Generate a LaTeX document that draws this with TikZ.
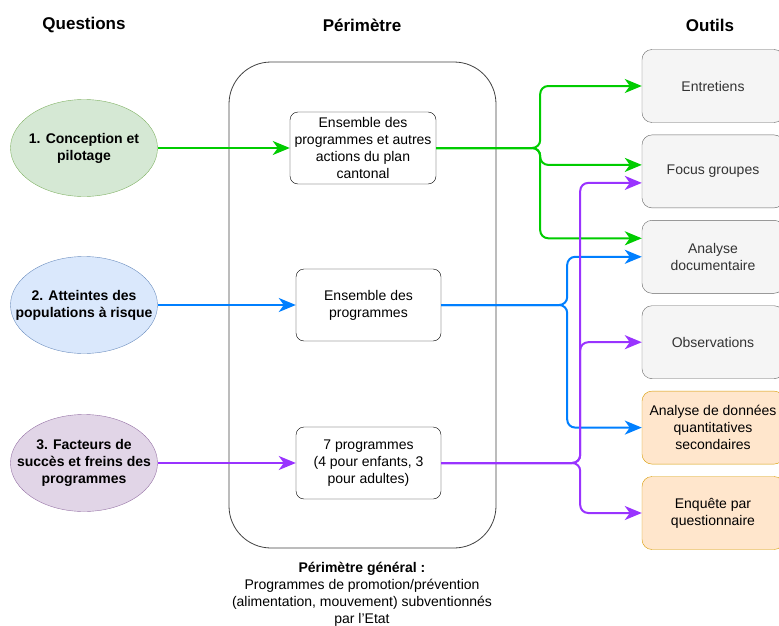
\documentclass[tikz,border=0pt]{standalone}
\usepackage{fontspec}
\setmainfont{Liberation Sans}
\usetikzlibrary{shapes.geometric, arrows.meta, positioning}
\definecolor{greenfill}{HTML}{D5E8D4}
\definecolor{greenline}{HTML}{82B366}
\definecolor{bluefill}{HTML}{DAE8FC}
\definecolor{blueline}{HTML}{6C8EBF}
\definecolor{purplefill}{HTML}{E1D5E7}
\definecolor{purpleline}{HTML}{9673A6}
\definecolor{toolfill}{HTML}{F5F5F5}
\definecolor{toolline}{HTML}{666666}
\definecolor{tooltext}{HTML}{333333}
\definecolor{datafill}{HTML}{FFE6CC}
\definecolor{dataline}{HTML}{D79B00}
\definecolor{linkgreen}{HTML}{00CC00}
\definecolor{linkblue}{HTML}{007FFF}
\definecolor{linkpurple}{HTML}{9933FF}
\newcommand{\diagfont}{\fontsize{14}{17}\selectfont}
\newcommand{\headfont}{\fontsize{17}{20}\selectfont\bfseries}
\tikzstyle{heading} = [font=\headfont]
\tikzstyle{question} = [ellipse, minimum width=147pt, minimum height=97pt, inner xsep=-40pt, inner ysep=-20pt, align=center, font=\diagfont\bfseries]
\tikzstyle{scopebox} = [rectangle, rounded corners=8pt, minimum width=145pt, minimum height=72pt, inner sep=0pt, align=center, draw=black, fill=white, font=\diagfont]
\tikzstyle{container} = [rectangle, rounded corners=42pt, minimum width=267pt, minimum height=486pt, draw=black!75, line width=0.8pt]
\tikzstyle{tool} = [rectangle, rounded corners=10pt, minimum width=142pt, minimum height=73pt, inner sep=0pt, align=center, draw=toolline, fill=toolfill, text=tooltext, font=\diagfont]
\tikzstyle{datatool} = [tool, draw=dataline, fill=datafill, text=black]
\tikzstyle{link} = [line width=2pt, rounded corners=8pt, -{Stealth[length=17pt, width=14pt, inset=5pt]}]

\begin{document}
\begin{tikzpicture}[x=1pt, y=-1pt, node distance=12pt]
 \useasboundingbox (0,0) rectangle (779,626);
 \clip (0,0) rectangle (779,626);

 \node (qhead) [heading] at (84,25) {Questions};
 \node (phead) [heading] at (362,25) {Périmètre};
 \node (ohead) [heading] at (710,25) {Outils};

 \node (perimetre) [container] at (362.5,305) {};

 \node (q1) [question, fill=greenfill, draw=greenline] at (84,148) {1. Conception et\\pilotage};
 \node (q2) [question, fill=bluefill, draw=blueline] at (84,305) {2. Atteintes des\\populations à risque};
 \node (q3) [question, fill=purplefill, draw=purpleline] at (84,463) {3. Facteurs de\\succès et freins des\\programmes};

 \node (plan) [scopebox, minimum width=146pt] at (363,148) {Ensemble des\\programmes et autres\\actions du plan\\cantonal};
 \node (progs) [scopebox] at (368.5,305) {Ensemble des\\programmes};
 \node (seven) [scopebox] at (368.5,463) {7 programmes\\(4 pour enfants, 3\\pour adultes)};

 \node (general) [align=center, font=\diagfont] at (362,594) {\textbf{Périmètre général :}\\Programmes de promotion/prévention\\(alimentation, mouvement) subventionnés\\par l'Etat};

 \node (entretiens) [tool] at (713,86) {Entretiens};
 \node (focus) [tool, below=of entretiens] {Focus groupes};
 \node (docs) [tool, below=of focus] {Analyse\\documentaire};
 \node (obs) [tool, below=of docs] {Observations};
 \node (donnees) [datatool, below=of obs] {Analyse de données\\quantitatives\\secondaires};
 \node (enquete) [datatool, below=of donnees] {Enquête par\\questionnaire};

 % question -> perimetre
 \draw[link, linkgreen] (q1) -- (plan);
 \draw[link, linkblue] (q2) -- (progs);
 \draw[link, linkpurple] (q3) -- (seven);

 % perimetre -> outils
 \coordinate (gsplit) at ([xshift=104pt]plan.east);
 \coordinate (bsplit) at ([xshift=126pt]progs.east);
 \coordinate (psplit) at ([xshift=139pt]seven.east);

 \draw[link, linkgreen] (plan.east) -- (gsplit) |- (entretiens.west);
 \draw[link, linkgreen] (plan.east) -- (gsplit) |- ([yshift=6.5pt]focus.west);
 \draw[link, linkgreen] (plan.east) -- (gsplit) |- ([yshift=18.5pt]docs.west);

 \draw[link, linkblue] (progs.east) -- (bsplit) |- (docs.west);
 \draw[link, linkblue] (progs.east) -- (bsplit) |- (donnees.west);

 \draw[link, linkpurple] (seven.east) -- (psplit) |- ([yshift=-11.5pt]focus.west);
 \draw[link, linkpurple] (seven.east) -- (psplit) |- (obs.west);
 \draw[link, linkpurple] (seven.east) -- (psplit) |- (enquete.west);
\end{tikzpicture}
\end{document}
